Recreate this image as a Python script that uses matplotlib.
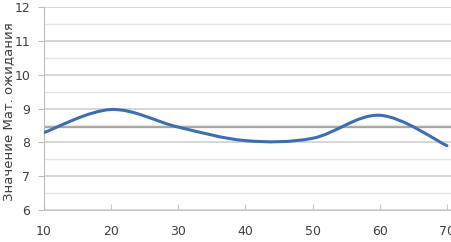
import matplotlib
matplotlib.use("Agg")
import matplotlib.pyplot as plt
from matplotlib.path import Path
from matplotlib.patches import PathPatch
from matplotlib.ticker import MultipleLocator

# --- data ---
X_VALUES = [10, 20, 30, 40, 50, 60, 70]
EXPECTATION = [8.29, 8.97, 8.45, 8.05, 8.12, 8.80, 7.90]
MEAN_LEVEL = 8.44
X_TICKS = [10, 20, 30, 40, 50, 60, 70]
Y_TICKS = [6, 7, 8, 9, 10, 11, 12]
Y_LABEL = "Значение Мат. ожидания"


def smooth_path(xs, ys, tension=1 / 6):
    """Excel-like smoothed line: Catmull-Rom segments as cubic Beziers."""
    verts = [(xs[0], ys[0])]
    codes = [Path.MOVETO]
    n = len(xs)
    for i in range(n - 1):
        x0, y0 = (xs[i - 1], ys[i - 1]) if i > 0 else (xs[i], ys[i])
        x1, y1 = xs[i], ys[i]
        x2, y2 = xs[i + 1], ys[i + 1]
        x3, y3 = (xs[i + 2], ys[i + 2]) if i + 2 < n else (x2, y2)
        c1 = (x1 + (x2 - x0) * tension, y1 + (y2 - y0) * tension)
        c2 = (x2 - (x3 - x1) * tension, y2 - (y3 - y1) * tension)
        verts += [c1, c2, (x2, y2)]
        codes += [Path.CURVE4] * 3
    return Path(verts, codes)


fig = plt.figure(figsize=(4.51, 2.42), dpi=100)
ax = fig.add_axes([44 / 451, 1 - 210 / 242, 1 - 44 / 451, (210 - 7) / 242])

ax.set_xlim(10, 70.6)
ax.set_ylim(6, 12)
ax.set_xticks(X_TICKS)
ax.set_yticks(Y_TICKS)
ax.yaxis.set_minor_locator(MultipleLocator(0.5))

ax.grid(True, which="major", axis="y", color="#cfcfcf", linewidth=1.2, zorder=0)
ax.grid(True, which="minor", axis="y", color="#e4e4e4", linewidth=1.0, zorder=0)

ax.axhline(MEAN_LEVEL, color="#a8a39c", linewidth=1.6, zorder=1)

patch = PathPatch(smooth_path(X_VALUES, EXPECTATION), facecolor="none",
                  edgecolor="#3d6fb0", linewidth=2.2, zorder=3,
                  capstyle="round", joinstyle="round")
ax.add_patch(patch)

for side in ["top", "right"]:
    ax.spines[side].set_visible(False)
ax.spines["left"].set_color("#bdbdbd")
ax.spines["bottom"].set_color("#c8c8c8")

ax.tick_params(axis="y", which="major", length=4, color="#bdbdbd",
               labelsize=9, labelcolor="#404040", pad=6)
ax.tick_params(axis="y", which="minor", length=0)
ax.tick_params(axis="x", length=4, color="#c8c8c8", direction="in",
               labelsize=9, labelcolor="#404040", pad=11)

ax.set_ylabel(Y_LABEL, fontsize=9.5, color="#404040")
ax.yaxis.set_label_coords(-0.07, 0.483)

fig.savefig("out.png", dpi=100)
